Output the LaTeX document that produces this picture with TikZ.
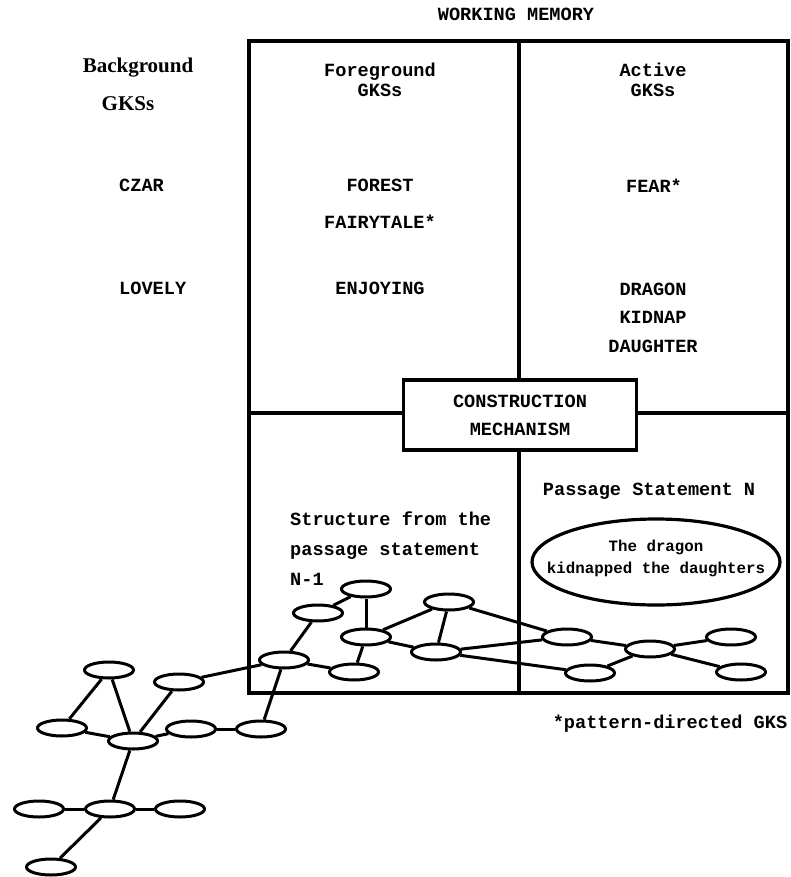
\documentclass[tikz,border=0pt]{standalone}
\usepackage{fontspec}
\setmonofont{Liberation Mono}
\newfontfamily\headfont{Liberation Serif}
\usetikzlibrary{shapes.geometric}

\tikzset{
  frame/.style={line width=3.2pt},
  link/.style={line width=3pt},
  gks/.style={draw, ellipse, line width=3pt, minimum width=49pt, minimum height=16pt, inner sep=0pt},
  word/.style={font=\ttfamily\bfseries\fontsize{18.6}{22}\selectfont, inner sep=0pt, text height=11pt, text depth=0pt},
  small/.style={font=\ttfamily\bfseries\fontsize{15.8}{19}\selectfont, inner sep=0pt, text height=9.5pt, text depth=0pt},
  head/.style={font=\headfont\bfseries\fontsize{21}{24}\selectfont, inner sep=0pt},
  mechbox/.style={draw, fill=white, line width=3.2pt, minimum width=233pt, minimum height=70pt, align=center, inner sep=0pt,
    font=\ttfamily\bfseries\fontsize{18.6}{28}\selectfont},
  stmtbox/.style={draw, ellipse, line width=3.2pt, minimum width=248pt, minimum height=86pt, inner sep=0pt}
}

\begin{document}
\begin{tikzpicture}[x=1pt, y=-1pt]
  \useasboundingbox (0,0) rectangle (790,877);

  % working memory frame
  \draw[frame] (249,41) rectangle (788,693);
  \draw[frame] (519,41) -- (519,693);
  \draw[frame] (249,413) -- (788,413);
  \node[word] (wm) at (516,15) {WORKING MEMORY};

  % column heads
  \node[head] (bg) at (138,68) {Background};
  \node[head] (bggks) at (128,104) {GKSs};
  \node[word] (fg) at (380,71) {Foreground};
  \node[word] (fggks) at (380,91) {GKSs};
  \node[word] (act) at (653,71) {Active};
  \node[word] (actgks) at (653,91) {GKSs};

  % background GKSs
  \node[word, anchor=west] (czar) at (119,186) {CZAR};
  \node[word, anchor=west] (lovely) at (119,289) {LOVELY};

  % foreground GKSs
  \node[word] (forest) at (380,186) {FOREST};
  \node[word] (fairy) at (380,223) {FAIRYTALE*};
  \node[word] (enjoy) at (380,289) {ENJOYING};

  % active GKSs
  \node[word] (fear) at (654,187) {FEAR*};
  \node[word] (dragon) at (653,290) {DRAGON};
  \node[word] (kidnap) at (653,318) {KIDNAP};
  \node[word] (daughter) at (653,347) {DAUGHTER};

  % construction mechanism
  \node[mechbox] (mech) at (520,415) {CONSTRUCTION\\MECHANISM};

  % passage statement N
  \node[word] (pn) at (649,490) {Passage Statement N};
  \node[stmtbox] (stmt) at (656,562) {};
  \node[small] (stmt1) at (656,547) {The dragon};
  \node[small] (stmt2) at (656,569) {kidnapped the daughters};

  % structure from statement N-1
  \node[word, anchor=west] (st1) at (290,520) {Structure from the};
  \node[word, anchor=west] (st2) at (290,550) {passage statement};
  \node[word, anchor=west] (st3) at (290,580) {N-1};

  % footnote
  \node[word] (note) at (670,723) {*pattern-directed GKS};

  % network inside the box
  \node[gks] (a1) at (366,589) {};
  \node[gks] (a2) at (318,613) {};
  \node[gks] (a3) at (366,637) {};
  \node[gks] (a4) at (284,660) {};
  \node[gks] (a5) at (354,672) {};
  \node[gks] (a6) at (449,602) {};
  \node[gks] (a7) at (436,652) {};
  \node[gks] (a8) at (567,637) {};
  \node[gks] (a9) at (650,649) {};
  \node[gks] (a10) at (731,637) {};
  \node[gks] (a11) at (590,673) {};
  \node[gks] (a12) at (741,672) {};

  % network outside the box
  \node[gks] (b1) at (109,670) {};
  \node[gks] (b2) at (179,682) {};
  \node[gks] (b3) at (62,728) {};
  \node[gks] (b4) at (133,741) {};
  \node[gks] (b5) at (191,729) {};
  \node[gks] (b6) at (261,729) {};
  \node[gks] (b7) at (110,809) {};
  \node[gks] (b8) at (39,809) {};
  \node[gks] (b9) at (180,809) {};
  \node[gks] (b10) at (51,867) {};

  % links
  \draw[link] (a1) -- (a2);
  \draw[link] (a1) -- (a3);
  \draw[link] (a2) -- (a4);
  \draw[link] (a3) -- (a5);
  \draw[link] (a3) -- (a6);
  \draw[link] (a3) -- (a7);
  \draw[link] (a4) -- (a5);
  \draw[link] (a6) -- (a7);
  \draw[link] (a6) -- (a8);
  \draw[link] (a7) -- (a8);
  \draw[link] (a7) -- (a11);
  \draw[link] (a8) -- (a9);
  \draw[link] (a9) -- (a10);
  \draw[link] (a9) -- (a11);
  \draw[link] (a9) -- (a12);
  \draw[link] (a4) -- (b2);
  \draw[link] (a4) -- (b6);
  \draw[link] (b1) -- (b3);
  \draw[link] (b1) -- (b4);
  \draw[link] (b2) -- (b4);
  \draw[link] (b3) -- (b4);
  \draw[link] (b4) -- (b5);
  \draw[link] (b5) -- (b6);
  \draw[link] (b4) -- (b7);
  \draw[link] (b7) -- (b8);
  \draw[link] (b7) -- (b9);
  \draw[link] (b7) -- (b10);
\end{tikzpicture}
\end{document}
